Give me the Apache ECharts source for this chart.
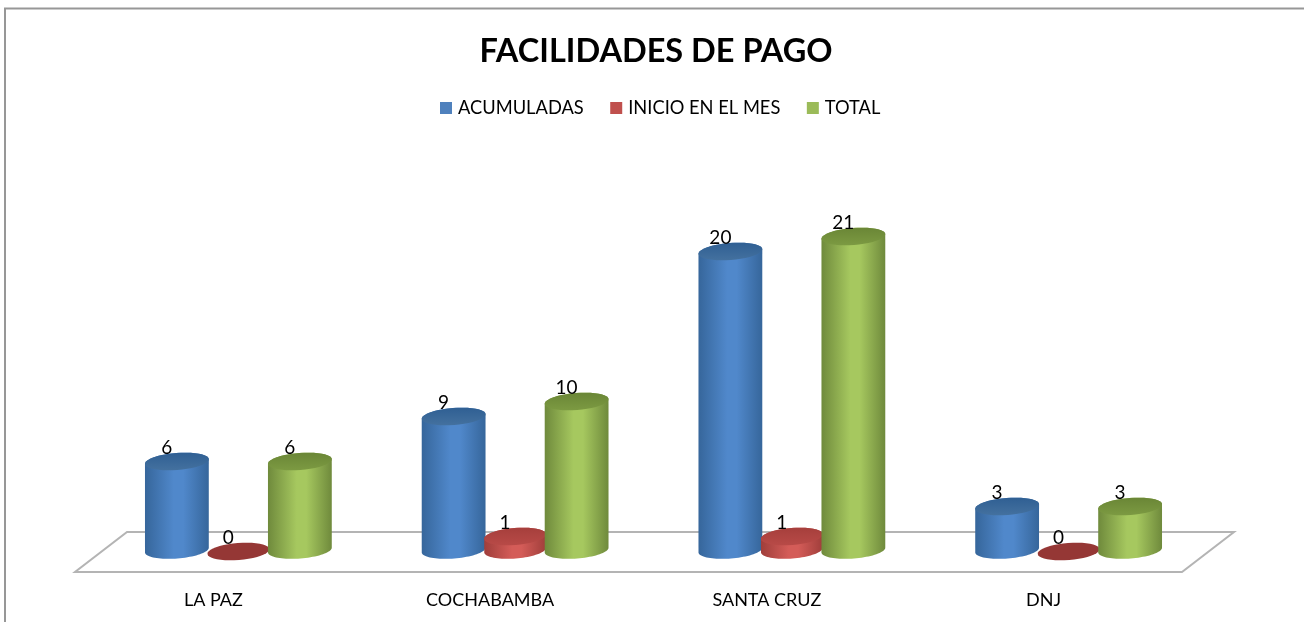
<!DOCTYPE html>
<html>
<head>
<meta charset="utf-8">
<style>
  html, body { margin: 0; padding: 0; background: #fff; }
  #chart { width: 1304px; height: 622px; }
</style>
<script src="https://cdn.jsdelivr.net/npm/echarts@6/dist/echarts.min.js"></script>
</head>
<body>
<div id="chart"></div>
<script>
const categories = ['LA PAZ', 'COCHABAMBA', 'SANTA CRUZ', 'DNJ']
const acumuladas = [6, 9, 20, 3]
const inicioEnElMes = [0, 1, 1, 0]
const total = [6, 10, 21, 3]

const FONT = 'Lato'
const TILT = -4.5 * Math.PI / 180

// puntos de una elipse inclinada entre dos angulos
function arcPoints(cx, cy, rx, ry, from, to) {
  const pts = []
  for (let i = 0; i <= 40; i++) {
    const t = from + (to - from) * i / 40
    const ex = rx * Math.cos(t)
    const ey = ry * Math.sin(t)
    pts.push([
      cx + ex * Math.cos(TILT) - ey * Math.sin(TILT),
      cy + ex * Math.sin(TILT) + ey * Math.cos(TILT)
    ])
  }
  return pts
}

function hGradient(edge, mid) {
  return {
    type: 'linear', x: 0, y: 0, x2: 1, y2: 0,
    colorStops: [
      { offset: 0, color: edge },
      { offset: 0.45, color: mid },
      { offset: 0.6, color: mid },
      { offset: 1, color: edge }
    ]
  }
}

function vGradient(from, to) {
  return {
    type: 'linear', x: 0, y: 0, x2: 0, y2: 1,
    colorStops: [{ offset: 0, color: from }, { offset: 1, color: to }]
  }
}

// cilindro: el centro se desplaza desde el borde frontal hacia el fondo del piso
function cylinderRender(offset, rx, ry, look) {
  return function (params, api) {
    const base = api.coord([api.value(0), 0])
    const top = api.coord([api.value(0), api.value(1)])
    const band = api.size([1, 0])[0]
    const cx = base[0] + 25 + offset * band * 0.2222
    const by = base[1] - 22
    const ty = top[1] - 20.5
    const children = []
    if (api.value(1) > 0) {
      const lower = arcPoints(cx, by, rx, ry, Math.PI, 0)
      const upper = arcPoints(cx, ty, rx, ry, 0, -Math.PI)
      children.push({
        type: 'polygon',
        shape: { points: lower.concat(upper) },
        style: { fill: hGradient(look.edge, look.mid) }
      })
    }
    children.push({
      type: 'polygon',
      shape: { points: arcPoints(cx, ty, rx, ry, 0, Math.PI * 2) },
      style: { fill: api.value(1) > 0 ? vGradient(look.topFrom, look.topTo) : look.flat }
    })
    children.push({
      type: 'text',
      style: {
        text: String(api.value(1)),
        x: cx - 10,
        y: ty - 13.5,
        align: 'center',
        verticalAlign: 'middle',
        fill: '#000',
        font: '19px ' + FONT
      }
    })
    return { type: 'group', children: children }
  }
}

function floorRender(params) {
  const c = params.coordSys
  const left = c.x, right = c.x + c.width, front = c.y + c.height
  return {
    type: 'polygon',
    shape: { points: [[left, front], [right, front], [right + 52, front - 40], [left + 52, front - 40]] },
    style: { fill: '#fff', stroke: '#b4b4b4', lineWidth: 2 }
  }
}

const chart = echarts.init(document.getElementById('chart'))

function cylinderSeries(name, values, color, offset, rx, ry, look) {
  return {
    name: name,
    type: 'custom',
    coordinateSystem: 'cartesian2d',
    itemStyle: { color: color },
    renderItem: cylinderRender(offset, rx, ry, look),
    encode: { x: 0, y: 1 },
    clip: false,
    data: values.map((v, i) => [i, v]),
    z: 3
  }
}

chart.setOption({
  animation: false,
  backgroundColor: '#fff',
  textStyle: { fontFamily: FONT },
  title: {
    text: 'FACILIDADES DE PAGO',
    left: 651,
    top: 30,
    textAlign: 'center',
    textStyle: { fontFamily: FONT, fontSize: 32.5, fontWeight: 'bold', color: '#000' }
  },
  legend: {
    data: ['ACUMULADAS', 'INICIO EN EL MES', 'TOTAL'],
    left: 435,
    top: 94,
    icon: 'rect',
    itemWidth: 12,
    itemHeight: 12,
    itemGap: 26.5,
    textStyle: { fontFamily: FONT, fontSize: 18.3, color: '#000', padding: [0, 0, 0, 1] }
  },
  grid: { left: 75, right: 122, top: 197, bottom: 50 },
  xAxis: {
    type: 'category',
    data: categories,
    axisLine: { show: false },
    axisTick: { show: false },
    axisLabel: { color: '#000', fontFamily: FONT, fontSize: 18, margin: 19 }
  },
  yAxis: { type: 'value', min: 0, max: 25, show: false },
  graphic: [{
    type: 'polyline',
    silent: true,
    shape: { points: [[5, 622], [5, 8.5], [1304, 8.5]] },
    style: { fill: 'none', stroke: '#979797', lineWidth: 2 }
  }],
  series: [
    {
      type: 'custom',
      coordinateSystem: 'cartesian2d',
      renderItem: floorRender,
      silent: true,
      clip: false,
      data: [[0, 0]],
      z: 1
    },
    cylinderSeries('ACUMULADAS', acumuladas, '#4f81bd', -1, 32, 8.5, {
      edge: '#36669b', mid: '#5088cb', topFrom: '#2f5f93', topTo: '#44719f', flat: '#376092'
    }),
    cylinderSeries('INICIO EN EL MES', inicioEnElMes, '#c0504d', 0, 31, 8.5, {
      edge: '#a03e3b', mid: '#d45c58', topFrom: '#a63f3c', topTo: '#b84a47', flat: '#953735'
    }),
    cylinderSeries('TOTAL', total, '#9bbb59', 1, 32, 8.5, {
      edge: '#6f8a3c', mid: '#a6c85f', topFrom: '#6a8636', topTo: '#7c9a42', flat: '#76923c'
    })
  ]
})

window.addEventListener('resize', () => chart.resize())
</script>
</body>
</html>
